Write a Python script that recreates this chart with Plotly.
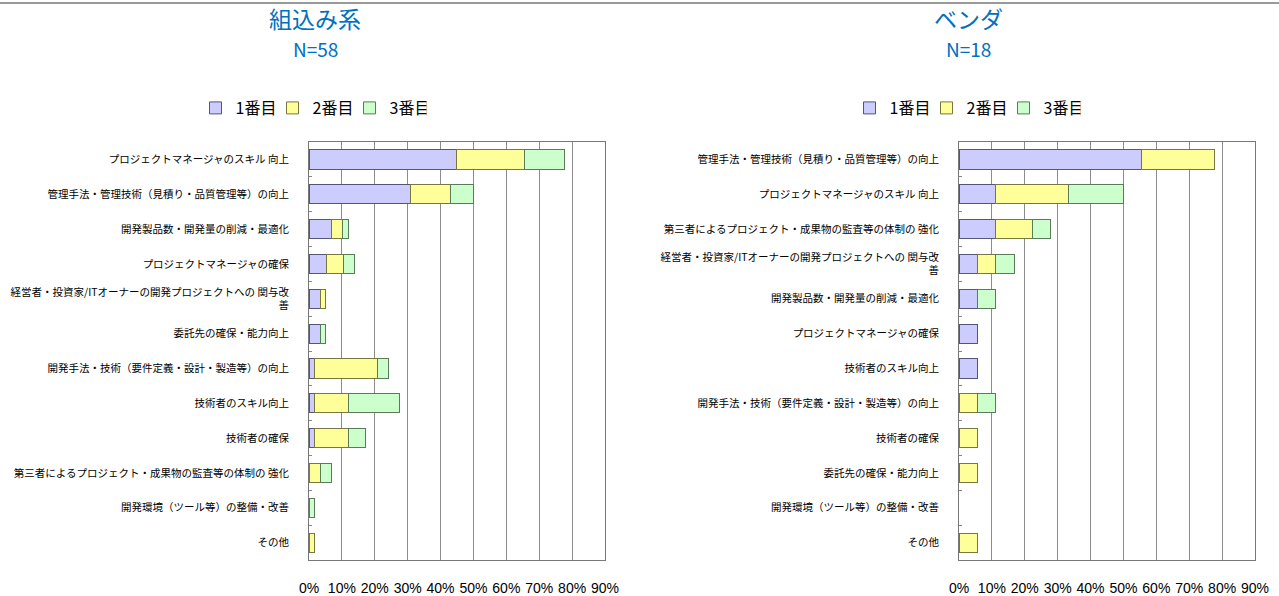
import plotly.graph_objects as go

# ---- data ----
series_names = ["1番目", "2番目", "3番目"]

emb_title = "組込み系"
emb_n = "N=58"
emb_categories = [
    "プロジェクトマネージャのスキル 向上",
    "管理手法・管理技術（見積り・品質管理等）の向上",
    "開発製品数・開発量の削減・最適化",
    "プロジェクトマネージャの確保",
    "経営者・投資家/ITオーナーの開発プロジェクトへの 関与改<br>善",
    "委託先の確保・能力向上",
    "開発手法・技術（要件定義・設計・製造等）の向上",
    "技術者のスキル向上",
    "技術者の確保",
    "第三者によるプロジェクト・成果物の監査等の体制の 強化",
    "開発環境（ツール等）の整備・改善",
    "その他",
]
emb_first = [44.8, 31.0, 6.9, 5.2, 3.4, 3.4, 1.7, 1.7, 1.7, 0, 0, 0]
emb_second = [20.7, 12.1, 3.4, 5.2, 1.7, 0, 19.0, 10.3, 10.3, 3.4, 0, 1.7]
emb_third = [12.1, 6.9, 1.7, 3.4, 0, 1.7, 3.4, 15.5, 5.2, 3.4, 1.7, 0]

ven_title = "ベンダ"
ven_n = "N=18"
ven_categories = [
    "管理手法・管理技術（見積り・品質管理等）の向上",
    "プロジェクトマネージャのスキル 向上",
    "第三者によるプロジェクト・成果物の監査等の体制の 強化",
    "経営者・投資家/ITオーナーの開発プロジェクトへの 関与改<br>善",
    "開発製品数・開発量の削減・最適化",
    "プロジェクトマネージャの確保",
    "技術者のスキル向上",
    "開発手法・技術（要件定義・設計・製造等）の向上",
    "技術者の確保",
    "委託先の確保・能力向上",
    "開発環境（ツール等）の整備・改善",
    "その他",
]
ven_first = [55.6, 11.1, 11.1, 5.6, 5.6, 5.6, 5.6, 0, 0, 0, 0, 0]
ven_second = [22.2, 22.2, 11.1, 5.6, 0, 0, 0, 5.6, 5.6, 5.6, 0, 5.6]
ven_third = [0, 16.7, 5.6, 5.6, 5.6, 0, 0, 5.6, 0, 0, 0, 0]

x_tickvals = [0, 10, 20, 30, 40, 50, 60, 70, 80, 90]
x_ticktext = ["0%", "10%", "20%", "30%", "40%", "50%", "60%", "70%", "80%", "90%"]

# ---- style ----
fill_colors = ["#CCCCFF", "#FFFF99", "#CCFFCC"]
line_colors = ["#55557a", "#77773f", "#5a7a5a"]
jp_font = "Noto Sans CJK JP"
title_color = "#0070C0"
W, H = 1279, 596


def nz(vals):
    return [v if v > 0 else None for v in vals]


def fx(px):
    return px / W


def fy(py):
    return 1 - py / H


fig = go.Figure()

panels = [
    (emb_categories, [emb_first, emb_second, emb_third], "x", "y", "legend"),
    (ven_categories, [ven_first, ven_second, ven_third], "x2", "y2", "legend2"),
]
for cats, vals_list, xa, ya, lg in panels:
    for name, vals, fc, lc in zip(series_names, vals_list, fill_colors, line_colors):
        fig.add_trace(go.Bar(
            y=cats, x=nz(vals), name=name, orientation="h",
            marker=dict(color=fc, line=dict(color=lc, width=1)),
            xaxis=xa, yaxis=ya, legend=lg,
        ))

common_x = dict(
    range=[0, 90], tickvals=x_tickvals, ticktext=x_ticktext,
    showgrid=True, gridcolor="#8c8c8c", gridwidth=1,
    showline=True, linecolor="#777777", linewidth=1, mirror=True,
    ticks="", ticklabelstandoff=15, zeroline=False, automargin=False,
    tickfont=dict(family="Liberation Sans", size=14, color="#000000"),
    fixedrange=True,
)
common_y = dict(
    type="category", autorange="reversed", automargin=False,
    showline=True, linecolor="#777777", linewidth=1, mirror=True,
    ticks="inside", tickson="boundaries", ticklen=3, tickcolor="#888888",
    ticklabelstandoff=17,
    tickfont=dict(family=jp_font, size=10.5, color="#000000"),
    showgrid=False, fixedrange=True,
)

legend_common = dict(
    orientation="h", y=fy(108), xanchor="center", yanchor="middle",
    font=dict(family=jp_font, size=16, color="#000000"),
    itemwidth=30, traceorder="normal", bgcolor="rgba(0,0,0,0)",
    entrywidth=32, entrywidthmode="pixels", tracegroupgap=0,
)

fig.update_layout(
    width=W, height=H,
    margin=dict(l=0, r=0, t=0, b=0, autoexpand=False),
    paper_bgcolor="white", plot_bgcolor="white",
    barmode="stack", bargap=0.45,
    xaxis=dict(domain=[fx(309), fx(605)], anchor="y", **common_x),
    yaxis=dict(domain=[fy(560), fy(142)], anchor="x", **common_y),
    xaxis2=dict(domain=[fx(959), fx(1255)], anchor="y2", **common_x),
    yaxis2=dict(domain=[fy(560), fy(142)], anchor="x2", **common_y),
    legend=dict(x=fx(311), **legend_common),
    legend2=dict(x=fx(965), **legend_common),
    showlegend=True,
)

for xc, title, n in [(315, emb_title, emb_n), (968, ven_title, ven_n)]:
    fig.add_annotation(
        text=title, x=fx(xc), y=fy(17.5), xref="paper", yref="paper",
        showarrow=False, xanchor="center", yanchor="middle",
        font=dict(family=jp_font, size=23, color=title_color),
    )
    fig.add_annotation(
        text=n, x=fx(xc), y=fy(48.5), xref="paper", yref="paper",
        showarrow=False, xanchor="center", yanchor="middle",
        font=dict(family=jp_font, size=19, color=title_color),
    )

fig.add_shape(type="line", xref="paper", yref="paper",
              x0=0, x1=1, y0=fy(3), y1=fy(3),
              line=dict(color="#999999", width=2))

fig.write_html(
    "out.html",
    config={"displayModeBar": False},
    post_script="document.body.style.margin='0px';document.body.style.overflow='hidden';",
)
